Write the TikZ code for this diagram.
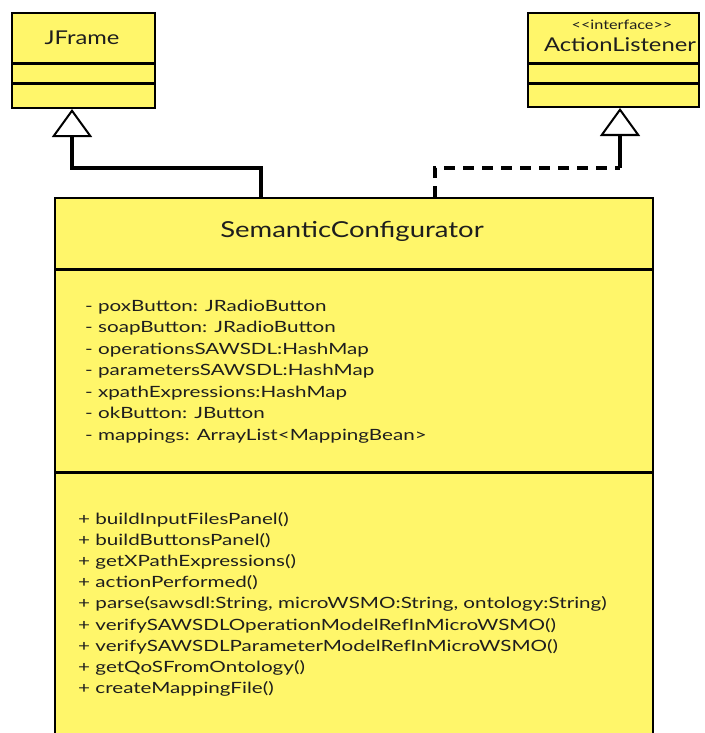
\documentclass[tikz,border=0pt]{standalone}
\usepackage{graphicx}
\usepackage{fontspec}
\setmainfont{Lato}
\usetikzlibrary{arrows.meta}
\definecolor{umlyellow}{RGB}{255,246,106}
\definecolor{ink}{RGB}{30,30,30}
\newcommand\wideA[1]{\scalebox{1.33}[1]{#1}}
\newcommand\wideB[1]{\scalebox{1.25}[1]{#1}}
\begin{document}
\begin{tikzpicture}[x=1pt,y=-1pt,
  classbox/.style={draw=black, line width=2pt, fill=umlyellow, rectangle, anchor=north west, inner sep=0pt},
  divider/.style={line width=3pt},
  txt/.style={inner sep=0pt, text=ink},
  member/.style={txt, anchor=base west, font=\fontsize{15.5}{18}\selectfont},
  gen/.style={line width=3.5pt, line join=miter, -{Triangle[open, length=28pt, width=40pt, line width=2pt, fill=white]}},
  realize/.style={line width=4pt, line join=miter, dash pattern=on 11pt off 8pt}
]
\useasboundingbox (0,0) rectangle (704,733);
\clip (0,0) rectangle (704,733);

% class boxes
\node[classbox, minimum width=143pt, minimum height=95pt] (jf) at (11,12) {};
\node[classbox, minimum width=171pt, minimum height=94pt] (al) at (527,12) {};
\node[classbox, minimum width=598pt, minimum height=560pt] (sc) at (54,197) {};

% compartments
\draw[divider] (11,64) -- (154,64);
\draw[divider] (11,84) -- (154,84);
\draw[divider] (527,64) -- (698,64);
\draw[divider] (527,84) -- (698,84);
\draw[divider] (54,269) -- (652,269);
\draw[divider] (54,472) -- (652,472);

% names
\node[txt, anchor=base, font=\fontsize{19}{22}\selectfont] (jfname) at (82,45) {\wideB{JFrame}};
\node[txt, anchor=base, font=\fontsize{13}{15}\selectfont] (alstereo) at (622,30) {\wideB{<\kern0pt<interface>\kern0pt>}};
\node[txt, anchor=base, font=\fontsize{19}{22}\selectfont] (alname) at (620,52) {\wideB{ActionListener}};
\node[txt, anchor=base, font=\fontsize{22}{26}\selectfont] (scname) at (352,237) {\wideB{SemanticConfigurator}};

% attributes
\node[member] (a1) at (85,311) {\wideA{- poxButton: JRadioButton}};
\node[member] (a2) at (85,332.5) {\wideA{- soapButton: JRadioButton}};
\node[member] (a3) at (85,354) {\wideA{- operationsSAWSDL:HashMap}};
\node[member] (a4) at (85,375.5) {\wideA{- parametersSAWSDL:HashMap}};
\node[member] (a5) at (85,397) {\wideA{- xpathExpressions:HashMap}};
\node[member] (a6) at (85,418.5) {\wideA{- okButton: JButton}};
\node[member] (a7) at (85,440) {\wideA{- mappings: ArrayList<MappingBean>}};

% operations
\node[member] (m1) at (78,524) {\wideA{+ buildInputFilesPanel()}};
\node[member] (m2) at (78,545.2) {\wideA{+ buildButtonsPanel()}};
\node[member] (m3) at (78,566.4) {\wideA{+ getXPathExpressions()}};
\node[member] (m4) at (78,587.6) {\wideA{+ actionPerformed()}};
\node[member] (m5) at (78,608.8) {\wideA{+ parse(sawsdl:String, microWSMO:String, ontology:String)}};
\node[member] (m6) at (78,630) {\wideA{+ verifySAWSDLOperationModelRefInMicroWSMO()}};
\node[member] (m7) at (78,651.2) {\wideA{+ verifySAWSDLParameterModelRefInMicroWSMO()}};
\node[member] (m8) at (78,672.4) {\wideA{+ getQoSFromOntology()}};
\node[member] (m9) at (78,693.6) {\wideA{+ createMappingFile()}};

% connectors
\coordinate (jk) at (72,168);
\coordinate (sk) at (261,168);
\coordinate (ak) at (620,168);
\coordinate (dk) at (435,168);
\draw[gen] (sc.north -| sk) -- (sk) -- (jk) -- (jf.south -| jk);
\draw[realize] (sc.north -| dk) -- (dk) -- (ak);
\draw[gen] (ak) -- (al.south -| ak);
\end{tikzpicture}
\end{document}
